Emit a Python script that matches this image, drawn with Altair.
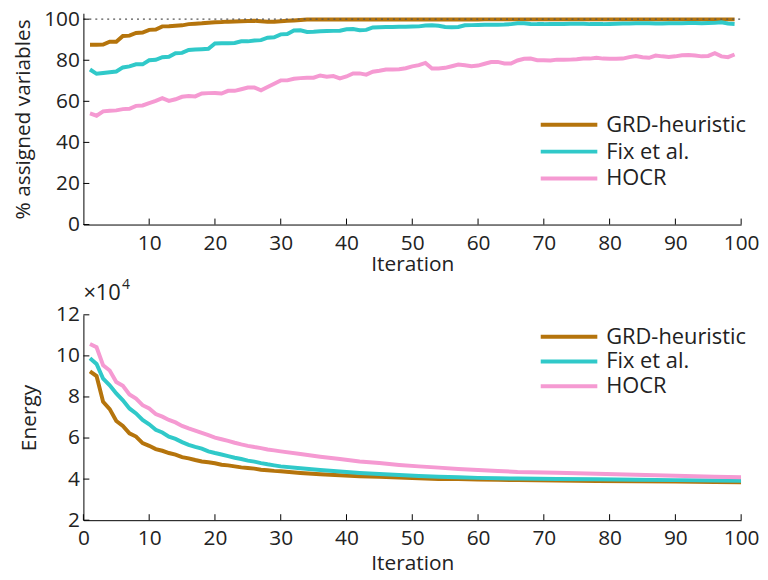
import altair as alt
import pandas as pd

# ---------------- data ----------------
names = ["GRD-heuristic", "Fix et al.", "HOCR"]
colors = ["#b5740c", "#30c9c9", "#f59ad2"]

iters_top = list(range(1, 100))
grd_pct = [87.5, 87.5, 87.6, 89.0, 89.0, 91.8, 92.0, 93.3, 93.5, 94.8,
           95.0, 96.5, 96.6, 96.8, 97.0, 97.6, 97.8, 98.0, 98.3, 98.5,
           98.6, 98.8, 98.9, 99.0, 99.1, 99.2, 99.0, 98.7, 98.7, 99.0,
           99.2, 99.4, 99.6, 99.8, 99.8, 99.8, 99.8, 99.8, 99.8, 99.8,
           99.8, 99.8, 99.8, 99.8, 99.8, 99.8, 99.8, 99.8, 99.8, 99.8,
           99.8, 99.8, 99.8, 99.8, 99.8, 99.8, 99.8, 99.8, 99.8, 99.8,
           99.9, 99.9, 99.9, 99.9, 99.9, 99.9, 99.9, 99.9, 99.9, 99.9,
           99.9, 99.9, 99.9, 99.9, 99.9, 99.9, 99.9, 99.9, 99.9, 99.9,
           99.9, 99.9, 99.9, 99.9, 99.9, 99.9, 99.9, 99.9, 99.9, 99.9,
           99.9, 99.9, 99.9, 99.9, 99.9, 99.9, 99.9, 99.9, 99.9]
fix_pct = [75.5, 73.4, 73.8, 74.2, 74.5, 76.5, 77.0, 78.0, 78.0, 80.0,
           80.2, 81.5, 81.7, 83.4, 83.6, 85.0, 85.2, 85.4, 85.6, 88.2,
           88.3, 88.3, 88.4, 89.2, 89.2, 89.6, 89.8, 91.0, 91.2, 92.6,
           92.8, 94.5, 94.6, 93.8, 93.9, 94.1, 94.2, 94.3, 94.4, 95.1,
           95.2, 94.6, 94.8, 96.0, 96.1, 96.2, 96.2, 96.3, 96.3, 96.4,
           96.5, 96.9, 97.0, 96.8, 96.2, 96.1, 96.2, 97.0, 97.1, 97.2,
           97.3, 97.3, 97.3, 97.4, 97.6, 98.0, 98.0, 97.7, 97.6, 97.6,
           97.7, 97.7, 97.7, 97.8, 97.8, 97.8, 97.6, 97.6, 97.6, 97.7,
           97.8, 97.9, 97.9, 98.0, 98.0, 98.0, 97.9, 97.9, 98.0, 98.0,
           98.0, 98.1, 98.1, 98.0, 98.1, 98.2, 98.5, 97.9, 97.7]
hocr_pct = [54.1, 53.0, 55.1, 55.4, 55.6, 56.2, 56.4, 57.8, 58.0, 59.1,
            60.2, 61.5, 60.2, 61.0, 62.2, 62.6, 62.4, 63.8, 64.0, 64.1,
            63.8, 65.1, 65.1, 65.9, 66.7, 66.7, 65.4, 67.0, 68.6, 70.2,
            70.2, 71.0, 71.3, 71.5, 71.5, 72.6, 72.0, 72.3, 71.2, 72.1,
            73.6, 73.6, 73.0, 74.4, 74.9, 75.5, 75.5, 75.6, 76.1, 77.0,
            77.6, 78.7, 76.0, 76.0, 76.3, 77.1, 77.9, 77.6, 77.1, 77.4,
            78.3, 79.1, 79.2, 78.4, 78.4, 79.9, 80.7, 80.8, 80.0, 80.0,
            79.9, 80.3, 80.2, 80.3, 80.5, 80.8, 80.8, 81.2, 80.8, 80.7,
            80.7, 80.8, 81.5, 82.1, 81.5, 81.2, 82.3, 81.9, 81.6, 81.9,
            82.4, 82.6, 82.3, 81.9, 82.1, 83.4, 81.9, 81.5, 82.8]

iters_bot = list(range(1, 31)) + [33, 36, 39, 42, 45, 48, 51, 54, 57, 60,
                                  63, 66, 72, 78, 84, 90, 96, 100]
grd_energy = [9.25, 9.02, 7.76, 7.41, 6.83, 6.59, 6.23, 6.07, 5.75, 5.62,
              5.46, 5.38, 5.27, 5.19, 5.07, 5.01, 4.93, 4.86, 4.82, 4.77,
              4.70, 4.67, 4.62, 4.57, 4.54, 4.51, 4.46, 4.43, 4.40, 4.38,
              4.30, 4.24, 4.19, 4.14, 4.11, 4.08, 4.04, 4.01, 4.00, 3.98,
              3.97, 3.95, 3.93, 3.91, 3.89, 3.88, 3.86, 3.85]
fix_energy = [9.89, 9.61, 8.89, 8.57, 8.17, 7.84, 7.44, 7.20, 6.88, 6.67,
              6.40, 6.27, 6.07, 5.96, 5.80, 5.67, 5.57, 5.48, 5.35, 5.27,
              5.20, 5.12, 5.04, 4.98, 4.90, 4.85, 4.78, 4.72, 4.67, 4.62,
              4.53, 4.44, 4.37, 4.30, 4.25, 4.20, 4.15, 4.12, 4.09, 4.06,
              4.04, 4.03, 4.01, 3.99, 3.97, 3.95, 3.93, 3.92]
hocr_energy = [10.58, 10.42, 9.54, 9.29, 8.73, 8.54, 8.12, 7.92, 7.60, 7.44,
               7.17, 7.04, 6.88, 6.76, 6.59, 6.47, 6.36, 6.25, 6.14, 6.02,
               5.94, 5.86, 5.77, 5.69, 5.62, 5.56, 5.51, 5.44, 5.40, 5.35,
               5.22, 5.09, 4.98, 4.86, 4.78, 4.69, 4.62, 4.56, 4.49, 4.44,
               4.40, 4.35, 4.31, 4.26, 4.21, 4.16, 4.11, 4.09]

top_x_ticks = [10, 20, 30, 40, 50, 60, 70, 80, 90, 100]
bot_x_ticks = [0, 10, 20, 30, 40, 50, 60, 70, 80, 90, 100]
top_y_ticks = [0, 20, 40, 60, 80, 100]
bot_y_ticks = [2, 4, 6, 8, 10, 12]
ref_line = [100]

# ---------------- frames ----------------
def long_df(xs, series):
    rows = []
    for k, (nm, vals) in enumerate(zip(names, series)):
        for x, v in zip(xs, vals):
            rows.append({"Iteration": x, "value": v, "method": nm, "k": k})
    return pd.DataFrame(rows)

top_df = long_df(iters_top, [grd_pct, fix_pct, hocr_pct])
bot_df = long_df(iters_bot, [grd_energy, fix_energy, hocr_energy])

FONT = "Open Sans"
FS = 21
TXT = "#222222"
W = 663
H_TOP = 213
H_BOT = 207
TICK = 6

color_scale = alt.Scale(domain=names, range=colors)
x_scale = alt.Scale(domain=[0, 100], nice=False, zero=False)

SYM = 529  # sqrt = 23


def make_legend(ly, rowpad):
    return alt.Legend(title=None, orient="none", legendX=476, legendY=ly,
                      symbolType="M-2.48,0H2.48", symbolSize=SYM,
                      symbolStrokeWidth=4, symbolFillColor="transparent",
                      labelFontSize=FS + 1, labelFont=FONT, labelColor=TXT,
                      labelOffset=24, rowPadding=rowpad, padding=0)


def panel(df, ydom, yticks, xticks, h, ytitle, ly, rowpad, xtitlepad, ytitlepad):
    ysc = alt.Scale(domain=ydom, nice=False, zero=False)
    lines = alt.Chart(df).mark_line(strokeWidth=4, clip=True).encode(
        x=alt.X("Iteration:Q", scale=x_scale,
                axis=alt.Axis(values=xticks, title="Iteration",
                              titlePadding=xtitlepad, labelFlush=False)),
        y=alt.Y("value:Q", scale=ysc,
                axis=alt.Axis(values=yticks, title=ytitle,
                              titlePadding=ytitlepad, labelFlush=False)),
        color=alt.Color("method:N", scale=color_scale,
                        legend=make_legend(ly, rowpad)),
        order="Iteration:Q",
        detail="k:O",
    )
    xt = alt.Chart(pd.DataFrame({"t": xticks})).mark_rule(
        color="black", strokeWidth=1).encode(
        x=alt.X("t:Q", scale=x_scale), y=alt.value(h), y2=alt.value(h - TICK))
    yt = alt.Chart(pd.DataFrame({"t": yticks})).mark_rule(
        color="black", strokeWidth=1).encode(
        y=alt.Y("t:Q", scale=ysc), x=alt.value(0), x2=alt.value(TICK))
    return lines, xt, yt, ysc


l1, xt1, yt1, ysc1 = panel(top_df, [0, 102.9], top_y_ticks, top_x_ticks, H_TOP,
                           "% assigned variables", 99, 2, 0, 10)
dotted = alt.Chart(pd.DataFrame({"r": ref_line})).mark_rule(
    color="#555555", strokeWidth=1.3, strokeDash=[2, 4]).encode(
    y=alt.Y("r:Q", scale=ysc1), x=alt.value(0), x2=alt.value(W + 3))
top = alt.layer(l1, dotted, xt1, yt1).properties(width=W, height=H_TOP)

l2, xt2, yt2, ysc2 = panel(bot_df, [2, 12], bot_y_ticks, bot_x_ticks, H_BOT,
                           "Energy", 8.5, -2, 4, 16)
mult = alt.Chart(pd.DataFrame({"s": ["×10"]})).mark_text(
    align="left", baseline="middle", fontSize=FS + 1, font=FONT,
    color=TXT).encode(text="s:N", x=alt.value(0), y=alt.value(-22))
exp = alt.Chart(pd.DataFrame({"s": ["4"]})).mark_text(
    align="left", baseline="middle", fontSize=14, font=FONT,
    color=TXT).encode(text="s:N", x=alt.value(39), y=alt.value(-30))
bottom = alt.layer(l2, xt2, yt2, mult, exp).properties(width=W, height=H_BOT)

chart = alt.vconcat(top, bottom, spacing=4).resolve_scale(
    color="independent"
).resolve_legend(
    color="independent"
).properties(
    padding={"left": 4, "top": -2, "right": 0, "bottom": 0}
).configure_view(
    stroke=None
).configure_axis(
    domainColor="black", domainWidth=1, ticks=False, grid=False,
    labelFont=FONT, labelFontSize=FS, labelColor=TXT,
    titleFont=FONT, titleFontSize=FS, titleColor=TXT,
    titleFontWeight="normal", labelPadding=4
).configure_axisX(labelPadding=8)

chart.save("out.html", embed_options={"renderer": "svg", "actions": False})
